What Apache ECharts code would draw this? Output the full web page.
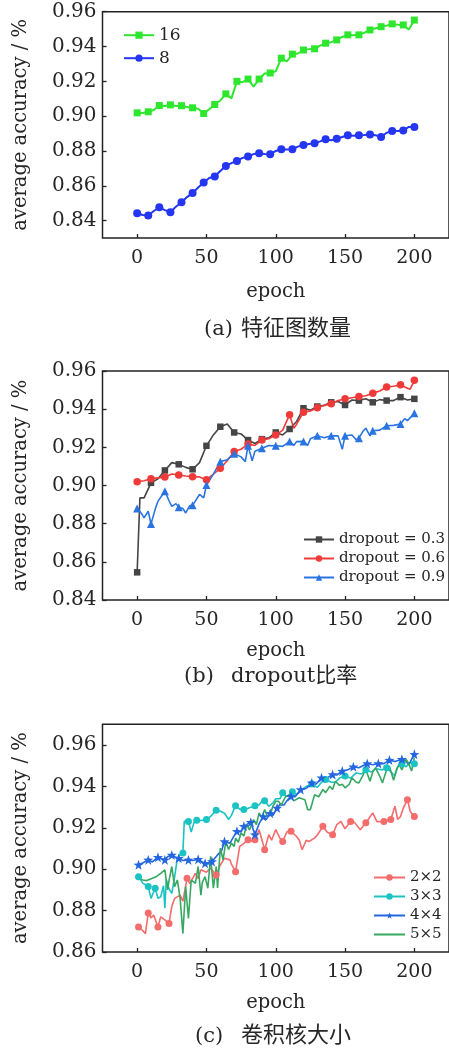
<!DOCTYPE html>
<html>
<head>
<meta charset="utf-8">
<script src="https://cdn.jsdelivr.net/npm/echarts@6/dist/echarts.min.js"></script>
<style>
html,body{margin:0;padding:0;background:#fff;}
#c{width:449px;height:1056px;}
</style>
</head>
<body>
<div id="c"></div>
<script>
// ---------- tick labels ----------
const xTicks = [0, 50, 100, 150, 200];
const yTicksA = [0.84, 0.86, 0.88, 0.90, 0.92, 0.94, 0.96];
const yTicksB = [0.84, 0.86, 0.88, 0.90, 0.92, 0.94, 0.96];
const yTicksC = [0.86, 0.88, 0.90, 0.92, 0.94, 0.96];

// ---------- (a) feature map count ----------
const epochA = [0,4,8,12,16,20,24,28,32,36,40,44,48,52,56,60,64,68,72,76,80,84,88,92,96,100,104,108,112,116,120,124,128,132,136,140,144,148,152,156,160,164,168,172,176,180,184,188,192,196,200];
const acc16 = [.9019,.9018,.9025,.9035,.9061,.9058,.9065,.9058,.9060,.9052,.9048,.9042,.9015,.9040,.9067,.9090,.9128,.9102,.9200,.9195,.9213,.9170,.9213,.9245,.9248,.9257,.9333,.9314,.9356,.9360,.9380,.9385,.9387,.9405,.9419,.9425,.9438,.9455,.9467,.9465,.9467,.9480,.9495,.9505,.9514,.9520,.9530,.9525,.9524,.9498,.9552];
const acc8 = [.8442,.8432,.8429,.8455,.8476,.8460,.8448,.8480,.8505,.8535,.8558,.8590,.8619,.8645,.8653,.8685,.8714,.8730,.8743,.8760,.8768,.8782,.8787,.8783,.8781,.8800,.8810,.8808,.8810,.8825,.8834,.8840,.8844,.8855,.8867,.8862,.8870,.8880,.8890,.8888,.8890,.8892,.8895,.8890,.8880,.8905,.8914,.8915,.8918,.8938,.8937];
const marksA = [0,8,16,24,32,40,48,56,64,72,80,88,96,104,112,120,128,136,144,152,160,168,176,184,192,200];

// ---------- (b) dropout ratio ----------
const epoch03 = [0,2,5,10,15,20,25,30,35,40,45,50,55,60,65,70,75,80,85,90,95,100,105,110,115,120,125,130,135,140,145,150,155,160,165,170,175,180,185,190,195,200];
const acc03 = [.8545,.8935,.8935,.9014,.9035,.9079,.9120,.9111,.9095,.9085,.9120,.9208,.9265,.9308,.9322,.9278,.9270,.9238,.9220,.9243,.9250,.9278,.9265,.9296,.9335,.9405,.9395,.9414,.9420,.9436,.9440,.9422,.9448,.9445,.9455,.9436,.9450,.9445,.9445,.9463,.9448,.9454];
const epoch06 = [0,5,10,15,20,25,30,35,40,45,50,55,60,65,70,75,80,85,90,95,100,105,110,113,115,120,125,130,135,140,145,150,155,160,165,170,175,180,185,190,195,197,200];
const acc06 = [.9020,.9025,.9035,.9040,.9044,.9060,.9055,.9050,.9046,.9045,.9030,.9060,.9090,.9130,.9178,.9190,.9217,.9210,.9238,.9245,.9264,.9290,.9371,.9300,.9320,.9384,.9390,.9407,.9420,.9428,.9445,.9454,.9460,.9466,.9470,.9484,.9495,.9516,.9520,.9528,.9510,.9505,.9551];
const epoch09 = [0,3,5,8,10,13,15,20,23,25,28,30,33,35,38,40,45,48,50,55,60,65,70,75,78,80,83,85,90,95,100,105,110,113,115,120,123,125,130,135,140,145,148,150,155,158,160,163,165,168,170,175,180,185,190,193,195,200];
const acc09 = [.8879,.8855,.8830,.8865,.8798,.8875,.8917,.8970,.8920,.8891,.8905,.8886,.8880,.8856,.8895,.8896,.8953,.8935,.9002,.9060,.9125,.9135,.9167,.9150,.9125,.9208,.9130,.9180,.9195,.9210,.9208,.9205,.9231,.9210,.9230,.9231,.9210,.9245,.9261,.9250,.9261,.9260,.9190,.9261,.9265,.9240,.9248,.9285,.9300,.9260,.9287,.9290,.9313,.9315,.9322,.9350,.9340,.9378];
const marksB = [0,10,20,30,40,50,60,70,80,90,100,110,120,130,140,150,160,170,180,190,200];

// ---------- (c) kernel size ----------
const epoch22 = [1,3,6,8,10,12,15,17,20,23,25,27,31,33,36,38,42,44,46,50,53,57,60,63,67,68,71,74,77,80,83,85,88,92,95,97,100,103,105,108,111,115,117,119,122,124,128,130,134,137,141,144,147,150,154,157,161,165,170,173,178,183,186,188,190,192,195,197,200];
const acc22 = [.8721,.8710,.8689,.8789,.8765,.8778,.8721,.8770,.8755,.8738,.8820,.8859,.8875,.8845,.8956,.8930,.8980,.8955,.8997,.8985,.9005,.8972,.9020,.9053,.9045,.9025,.8988,.9110,.9125,.9142,.9135,.9142,.9191,.9094,.9167,.9140,.9191,.9150,.9134,.9180,.9183,.9158,.9140,.9094,.9140,.9134,.9150,.9165,.9207,.9180,.9166,.9215,.9231,.9195,.9231,.9225,.9191,.9224,.9272,.9230,.9231,.9240,.9304,.9240,.9255,.9295,.9336,.9280,.9255];
const marks22 = [1,8,15,23,36,57,71,80,85,92,105,111,134,141,154,165,178,183,195,200];

const epoch33 = [1,4,6,8,10,13,15,17,19,20,21,23,25,27,29,31,33,34,37,39,41,43,46,50,53,57,60,63,66,68,71,74,77,80,85,88,90,92,95,98,100,103,105,108,112,115,118,122,126,130,133,136,140,143,146,150,154,158,162,165,169,172,177,180,183,186,188,191,194,197,200];
const acc33 = [.8964,.8933,.8925,.8916,.8859,.8908,.8860,.8867,.8920,.8811,.8950,.8905,.8883,.8960,.9053,.9070,.9078,.9231,.9231,.9180,.9225,.9236,.9235,.9240,.9255,.9285,.9280,.9270,.9240,.9260,.9307,.9290,.9288,.9295,.9307,.9310,.9328,.9331,.9304,.9320,.9340,.9340,.9369,.9350,.9374,.9360,.9380,.9400,.9412,.9395,.9420,.9433,.9420,.9420,.9440,.9450,.9440,.9465,.9460,.9480,.9470,.9485,.9480,.9490,.9470,.9450,.9495,.9510,.9495,.9515,.9510];
const marks33 = [1,8,13,33,37,43,50,57,71,77,85,92,105,112,126,136,150,165,180,191,200];

const epoch44 = [1,4,8,11,15,18,20,22,25,27,30,33,37,40,44,47,49,51,54,58,61,63,67,69,72,75,77,80,82,85,88,91,93,96,98,101,103,106,108,111,114,118,122,126,129,133,137,141,144,148,152,156,160,166,170,174,178,182,186,191,194,196,198,200];
const acc44 = [.9021,.9030,.9045,.9035,.9058,.9050,.9045,.9060,.9069,.9060,.9053,.9042,.9045,.9042,.9048,.9035,.9029,.9025,.9037,.9069,.9090,.9134,.9126,.9150,.9183,.9180,.9207,.9220,.9227,.9167,.9220,.9255,.9240,.9270,.9260,.9296,.9312,.9310,.9330,.9352,.9350,.9385,.9390,.9417,.9410,.9442,.9440,.9458,.9455,.9474,.9480,.9495,.9490,.9511,.9505,.9511,.9510,.9527,.9520,.9531,.9520,.9505,.9530,.9555];
const marks44 = [1,8,15,20,25,30,37,44,49,54,63,72,77,82,85,91,96,101,111,118,126,133,141,148,156,166,174,182,191,200];

const epoch55 = [1,4,7,11,14,17,20,22,23,25,27,29,31,33,35,37,39,42,44,46,47,49,51,53,55,57,58,60,62,64,66,68,70,71,73,75,77,79,81,84,86,88,90,92,94,96,98,100,102,104,107,110,113,117,121,123,125,128,131,134,136,139,141,143,146,148,150,153,155,158,160,163,165,168,170,172,175,177,180,182,185,187,189,191,194,196,198,200];
const acc55 = [.8956,.8948,.8945,.8956,.8965,.8980,.8997,.8900,.8945,.9013,.8916,.8948,.8859,.8689,.8916,.8762,.8948,.8932,.9013,.8875,.8935,.8964,.8908,.9062,.8908,.9013,.8910,.9102,.9045,.9134,.9095,.9126,.9110,.9150,.9130,.9175,.9160,.9215,.9190,.9240,.9215,.9272,.9250,.9288,.9255,.9264,.9305,.9328,.9328,.9310,.9350,.9360,.9330,.9345,.9336,.9288,.9288,.9360,.9350,.9385,.9370,.9401,.9385,.9425,.9405,.9410,.9393,.9410,.9442,.9420,.9417,.9455,.9482,.9425,.9470,.9490,.9450,.9417,.9480,.9498,.9430,.9480,.9506,.9480,.9531,.9510,.9474,.9539];

// ---------- build ----------
const FONT = "'DejaVu Serif', 'Noto Sans CJK SC', serif";
const TXT = '#262626';

const gridPos = [
  {left: 102.5, top: 11.7, width: 348, height: 226.3},
  {left: 102.5, top: 371, width: 348, height: 229},
  {left: 102.5, top: 724.3, width: 348, height: 227.7}
];
const yRange = [[0.83, 0.96], [0.84, 0.96], [0.86, 0.97]];
const yTicks = [yTicksA, yTicksB, yTicksC];
const nameGaps = [44, 41, 41];

function pairs(xs, ys) { return xs.map((x, i) => [x, ys[i]]); }

function lineSeries(idx, name, xs, ys, marks, symbol, size, color, width) {
  const set = new Set(marks || []);
  return {
    type: 'line', name: name, xAxisIndex: idx, yAxisIndex: idx,
    data: pairs(xs, ys),
    symbol: symbol,
    symbolSize: function (v) { return set.has(v[0]) ? size : 0; },
    showSymbol: symbol !== 'none',
    color: color,
    itemStyle: {color: color},
    lineStyle: {color: color, width: width},
    emphasis: {disabled: true},
    animation: false,
    z: 3
  };
}

const option = {
  backgroundColor: '#fff',
  animation: false,
  grid: gridPos.map(g => Object.assign({show: true, borderColor: '#222', borderWidth: 1.5, backgroundColor: 'transparent'}, g)),
  xAxis: [0, 1, 2].map(i => ({
    gridIndex: i, type: 'value', min: -25, max: 225,
    axisLine: {show: false},
    splitLine: {show: false},
    axisTick: {inside: true, length: 4, lineStyle: {color: '#222', width: 1.3}, customValues: xTicks},
    axisLabel: {customValues: xTicks, margin: 11, fontSize: 19, fontFamily: FONT, color: TXT},
    name: 'epoch', nameLocation: 'middle', nameGap: nameGaps[i],
    nameTextStyle: {fontSize: 19.5, fontFamily: FONT, color: TXT}
  })),
  yAxis: [0, 1, 2].map(i => ({
    gridIndex: i, type: 'value', min: yRange[i][0], max: yRange[i][1],
    axisLine: {show: false, onZero: false},
    splitLine: {show: false},
    axisTick: {inside: true, length: 4, lineStyle: {color: '#222', width: 1.3}, customValues: yTicks[i]},
    axisLabel: {customValues: yTicks[i], margin: 6, fontSize: 20, fontFamily: FONT, color: TXT,
      formatter: v => Number(v).toFixed(2)},
    name: 'average accuracy / %', nameLocation: 'middle', nameGap: 72, nameRotate: 90,
    nameTextStyle: {fontSize: 19.5, fontFamily: FONT, color: TXT}
  })),
  legend: [
    {data: ['16', '8'], orient: 'vertical', left: 118, top: 21.7, itemWidth: 30, itemHeight: 9, itemGap: 6,
     textStyle: {fontSize: 17, fontFamily: FONT, color: TXT}, selectedMode: false},
    {data: ['dropout = 0.3', 'dropout = 0.6', 'dropout = 0.9'], orient: 'vertical', left: 298, top: 527,
     itemWidth: 30, itemHeight: 8, itemGap: 4, textStyle: {fontSize: 15, fontFamily: FONT, color: TXT}, selectedMode: false},
    {data: ['2×2', '3×3', '4×4', {name: '5×5', itemStyle: {color: 'rgba(0,0,0,0)', borderWidth: 0}}],
     orient: 'vertical', left: 368, top: 865,
     itemWidth: 31, itemHeight: 8, itemGap: 4, textStyle: {fontSize: 15, fontFamily: FONT, color: TXT}, selectedMode: false}
  ],
  graphic: [
    {type: 'text', left: 204, top: 319, style: {text: '(a)', fontSize: 21, fontFamily: FONT, fill: TXT}},
    {type: 'text', left: 241, top: 318, style: {text: '特征图数量', fontSize: 22, fontFamily: FONT, fill: TXT}},
    {type: 'text', left: 184, top: 666, style: {text: '(b)', fontSize: 21, fontFamily: FONT, fill: TXT}},
    {type: 'text', left: 231, top: 666, style: {text: 'dropout比率', fontSize: 21, fontFamily: FONT, fill: TXT}},
    {type: 'text', left: 195, top: 1026, style: {text: '(c)', fontSize: 21, fontFamily: FONT, fill: TXT}},
    {type: 'text', left: 241, top: 1025, style: {text: '卷积核大小', fontSize: 22, fontFamily: FONT, fill: TXT}}
  ],
  series: [
    lineSeries(0, '16', epochA, acc16, marksA, 'rect', 7, '#2ee62e', 2),
    lineSeries(0, '8', epochA, acc8, marksA, 'circle', 8, '#2436f2', 2),
    lineSeries(1, 'dropout = 0.3', epoch03, acc03, marksB, 'rect', 6.5, '#454545', 1.6),
    lineSeries(1, 'dropout = 0.6', epoch06, acc06, marksB, 'circle', 7.5, '#f03a3a', 1.6),
    lineSeries(1, 'dropout = 0.9', epoch09, acc09, marksB, 'triangle', 8, '#2a74e2', 1.6),
    lineSeries(2, '2×2', epoch22, acc22, marks22, 'circle', 7, '#f46c6c', 1.6),
    lineSeries(2, '3×3', epoch33, acc33, marks33, 'circle', 7, '#1cc3c3', 1.6),
    lineSeries(2, '4×4', epoch44, acc44, marks44, 'path://M0,-10L2.35,-3.24L9.51,-3.09L3.8,1.24L5.88,8.09L0,4L-5.88,8.09L-3.8,1.24L-9.51,-3.09L-2.35,-3.24Z', 10, '#2366e0', 1.6),
    lineSeries(2, '5×5', epoch55, acc55, [], 'none', 0, '#37a862', 1.6)
  ]
};

const chart = echarts.init(document.getElementById('c'), null, {renderer: 'canvas'});
chart.setOption(option);
</script>
</body>
</html>
